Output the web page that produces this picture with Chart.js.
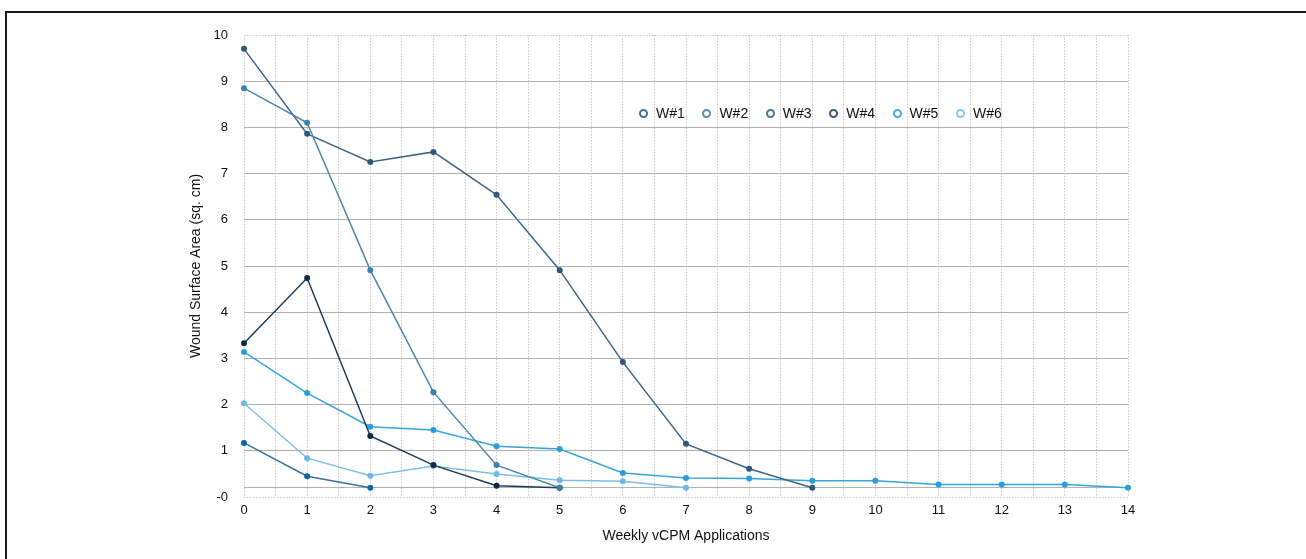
<!DOCTYPE html>
<html>
<head>
<meta charset="utf-8">
<script src="https://cdn.jsdelivr.net/npm/chart.js@4.4.1/dist/chart.umd.min.js"></script>
<style>
    html, body { margin: 0; padding: 0; background: #fff; }
    #wrap { position: relative; width: 1306px; height: 559px; }
    #frame { position: absolute; left: 5px; top: 11px; right: 0; bottom: 0; border-top: 2px solid #1a1a1a; border-left: 2px solid #1a1a1a; pointer-events: none; }
    #legend { position: absolute; left: 639px; top: 104px; display: flex; font: 14px "Liberation Sans", Arial, sans-serif; color: #111; }
    #legend .item { display: flex; align-items: center; width: 63.4px; height: 18px; }
    #legend .dot { width: 5px; height: 5px; border-radius: 50%; border: 2px solid; margin-right: 8px; background: #fff; }
</style>
</head>
<body>
<div id="wrap">
    <canvas id="woundChart" width="1306" height="559"></canvas>
    <div id="legend"></div>
    <div id="frame"></div>
</div>
<script>
// Données
const weeks = [0, 1, 2, 3, 4, 5, 6, 7, 8, 9, 10, 11, 12, 13, 14];
const seriesNames = ['W#1', 'W#2', 'W#3', 'W#4', 'W#5', 'W#6'];
const w1 = [1.17, 0.45, 0.2];
const w2 = [8.85, 8.1, 4.91, 2.27, 0.69, 0.2];
const w3 = [9.7, 7.86, 7.25, 7.47, 6.54, 4.91, 2.92, 1.15, 0.61, 0.2];
const w4 = [3.33, 4.74, 1.32, 0.69, 0.245, 0.2];
const w5 = [3.14, 2.25, 1.52, 1.45, 1.10, 1.04, 0.52, 0.41, 0.40, 0.35, 0.35, 0.27, 0.27, 0.27, 0.2];
const w6 = [2.03, 0.84, 0.46, 0.67, 0.5, 0.36, 0.34, 0.2];
const yTicks = [0, 1, 2, 3, 4, 5, 6, 7, 8, 9, 10];
const baseLine = 0.2;

const lineColors = ['#3d6f9f', '#4b87ae', '#3f6585', '#1d3b56', '#3aa3dc', '#7cbfe6'];
const pointColors = ['#0d65a3', '#3a80aa', '#2d5878', '#0c2c45', '#2b9dd9', '#6db8e4'];
const legendColors = ['#3d6f9f', '#5b8db5', '#4f7390', '#3a5670', '#46aee6', '#8ac6ea'];

const FONT = '"Liberation Sans", Arial, sans-serif';

function toPoints(values) {
    return values.map((v, i) => ({ x: weeks[i], y: v }));
}

function isEdge(c) {
    return c.tick && (c.tick.value === 0 || c.tick.value === 10);
}

document.addEventListener('DOMContentLoaded', function() {
    buildLegend();
    initWoundChart();
});

function buildLegend() {
    const legend = document.getElementById('legend');
    seriesNames.forEach((name, i) => {
        const item = document.createElement('div');
        item.className = 'item';
        item.innerHTML = `<span class="dot" style="border-color:${legendColors[i]}"></span><span>${name}</span>`;
        legend.appendChild(item);
    });
}

function initWoundChart() {
    const ctx = document.getElementById('woundChart').getContext('2d');
    const allSeries = [w1, w2, w3, w4, w5, w6];

    new Chart(ctx, {
        type: 'line',
        data: {
            datasets: allSeries.map((vals, i) => ({
                label: seriesNames[i],
                data: toPoints(vals),
                borderColor: lineColors[i],
                backgroundColor: pointColors[i],
                pointBackgroundColor: pointColors[i],
                pointBorderColor: pointColors[i],
                pointRadius: 3,
                pointBorderWidth: 0,
                borderWidth: 1.5,
                tension: 0,
                fill: false,
                clip: false
            }))
        },
        options: {
            responsive: false,
            animation: false,
            events: [],
            layout: {
                padding: { left: 180, right: 178, top: 35, bottom: 10 }
            },
            plugins: {
                legend: { display: false },
                tooltip: { enabled: false }
            },
            scales: {
                x: {
                    type: 'linear',
                    min: 0,
                    max: 14,
                    afterFit: axis => { axis.height = 52; },
                    ticks: {
                        stepSize: 0.5,
                        padding: 6,
                        autoSkip: false,
                        maxRotation: 0,
                        color: '#111',
                        font: { family: FONT, size: 13 },
                        callback: v => Number.isInteger(v) ? String(v) : ''
                    },
                    grid: {
                        drawTicks: false,
                        color: '#c8c8c8',
                        lineWidth: 1
                    },
                    border: { display: false, dash: [1.5, 1.5] },
                    title: {
                        display: true,
                        text: 'Weekly vCPM Applications',
                        color: '#111',
                        font: { family: FONT, size: 14 },
                        padding: { top: 4, bottom: 4 }
                    }
                },
                y: {
                    min: 0,
                    max: 10,
                    afterFit: axis => { axis.width = 64; },
                    afterBuildTicks: axis => {
                        axis.ticks = yTicks.map(v => ({ value: v }));
                        axis.ticks.splice(1, 0, { value: baseLine });
                    },
                    ticks: {
                        padding: 16,
                        color: '#111',
                        font: { family: FONT, size: 13 },
                        callback: v => v === 0 ? '-0' : (v === baseLine ? '' : String(v))
                    },
                    grid: {
                        drawTicks: false,
                        lineWidth: 1,
                        color: c => isEdge(c) ? '#c8c8c8' : '#b2b2b2'
                    },
                    border: {
                        display: false,
                        dash: c => isEdge(c) ? [1.5, 1.5] : []
                    },
                    title: {
                        display: true,
                        text: 'Wound Surface Area (sq. cm)',
                        color: '#111',
                        font: { family: FONT, size: 14 },
                        padding: { top: 8, bottom: 4 }
                    }
                }
            }
        }
    });
}
</script>
</body>
</html>
